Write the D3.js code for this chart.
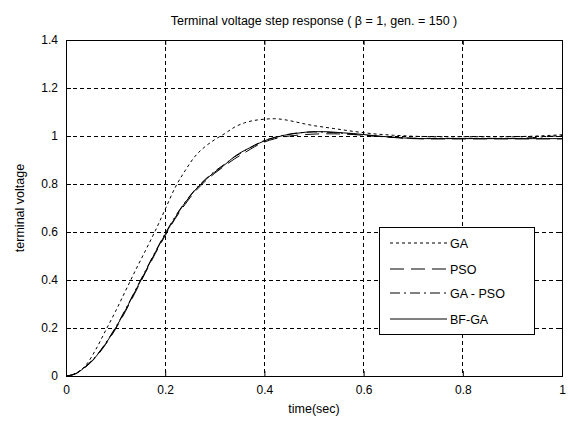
<!DOCTYPE html>
<html><head><meta charset="utf-8">
<script src="https://cdn.jsdelivr.net/npm/d3@7"></script>
<style>body{margin:0;background:#fff;} text{font-family:"Liberation Sans",Arial,sans-serif;}</style>
</head><body><svg id="c" width="570" height="424"></svg>
<script>
const time = [0,0.02,0.04,0.06,0.08,0.10,0.12,0.14,0.16,0.18,0.20,0.22,0.24,0.26,0.28,0.30,0.32,0.34,0.36,0.38,0.40,0.42,0.44,0.46,0.48,0.50,0.52,0.54,0.56,0.58,0.60,0.62,0.64,0.66,0.68,0.70,0.72,0.74,0.76,0.78,0.80,0.82,0.84,0.86,0.88,0.90,0.92,0.94,0.96,0.98,1.00];
const GA    = [0,0.012,0.045,0.11,0.19,0.27,0.355,0.44,0.522,0.605,0.695,0.785,0.855,0.915,0.955,0.985,1.01,1.037,1.055,1.065,1.07,1.072,1.068,1.06,1.051,1.043,1.037,1.031,1.025,1.019,1.014,1.009,1.006,1.003,1.001,0.999,0.998,0.997,0.997,0.997,0.997,0.997,0.997,0.997,0.997,0.997,0.998,0.999,1.001,1.003,1.005];
const PSO   = [0,0.01,0.038,0.078,0.132,0.196,0.27,0.35,0.43,0.51,0.585,0.655,0.715,0.768,0.81,0.845,0.876,0.905,0.93,0.955,0.975,0.988,0.997,1.002,1.006,1.008,1.009,1.009,1.008,1.006,1.003,1.0,0.997,0.994,0.991,0.989,0.988,0.988,0.988,0.988,0.988,0.988,0.988,0.988,0.988,0.988,0.988,0.988,0.988,0.988,0.988];
const GAPSO = [0,0.011,0.041,0.082,0.138,0.203,0.278,0.358,0.438,0.518,0.594,0.664,0.724,0.776,0.818,0.853,0.883,0.913,0.938,0.962,0.981,0.994,1.004,1.011,1.015,1.017,1.016,1.014,1.011,1.008,1.004,1.0,0.997,0.994,0.992,0.991,0.99,0.99,0.99,0.99,0.99,0.99,0.99,0.99,0.99,0.99,0.991,0.993,0.996,0.999,1.002];
const BFGA  = [0,0.01,0.04,0.08,0.135,0.20,0.275,0.355,0.435,0.515,0.59,0.66,0.722,0.774,0.815,0.85,0.88,0.915,0.94,0.96,0.98,0.993,1.003,1.01,1.015,1.018,1.018,1.016,1.013,1.01,1.006,1.002,0.998,0.995,0.992,0.99,0.989,0.989,0.989,0.989,0.989,0.989,0.989,0.989,0.989,0.989,0.989,0.989,0.989,0.989,0.989];
const seriesNames = ["GA","PSO","GA - PSO","BF-GA"];
const xTicks = [0,0.2,0.4,0.6,0.8,1];
const yTicks = [0,0.2,0.4,0.6,0.8,1,1.2,1.4];
const titleText = "Terminal voltage step response ( \u03B2 = 1, gen. = 150 )";

const svg = d3.select("#c");
const L=66,R=562,T=40,B=376;
const x = d3.scaleLinear().domain([0,1]).range([L,R]);
const y = d3.scaleLinear().domain([0,1.4]).range([B,T]);

// grid
const g = svg.append("g");
xTicks.slice(1,-1).forEach(v=>g.append("line").attr("x1",x(v)).attr("x2",x(v)).attr("y1",T).attr("y2",B)
  .attr("stroke","#000").attr("stroke-width",1).attr("stroke-dasharray","4,3").attr("shape-rendering","crispEdges"));
yTicks.slice(1,-1).forEach(v=>g.append("line").attr("x1",L).attr("x2",R).attr("y1",y(v)).attr("y2",y(v))
  .attr("stroke","#000").attr("stroke-width",1).attr("stroke-dasharray","4,3").attr("shape-rendering","crispEdges"));

// axes
const fmt = d=> d===0?"0":(d===1?"1":String(d));
svg.append("g").attr("transform",`translate(0,${B})`).call(d3.axisBottom(x).tickValues(xTicks).tickFormat(fmt).tickSizeInner(-5).tickSizeOuter(0).tickPadding(9));
svg.append("g").attr("transform",`translate(${L},0)`).call(d3.axisLeft(y).tickValues(yTicks).tickFormat(fmt).tickSizeInner(-5).tickSizeOuter(0).tickPadding(8));
svg.append("g").attr("transform",`translate(0,${T})`).call(d3.axisTop(x).tickValues(xTicks).tickFormat("").tickSizeInner(-5).tickSizeOuter(0));
svg.append("g").attr("transform",`translate(${R},0)`).call(d3.axisRight(y).tickValues(yTicks).tickFormat("").tickSizeInner(-5).tickSizeOuter(0));
svg.selectAll(".domain").remove();
svg.selectAll(".tick text").attr("font-size",12).attr("font-family","Liberation Sans, Arial, sans-serif").attr("fill","#000");
svg.append("rect").attr("x",L).attr("y",T).attr("width",R-L).attr("height",B-T).attr("fill","none").attr("stroke","#000").attr("stroke-width",1).attr("shape-rendering","crispEdges");

// lines
const dashes = ["3,3","14,7","10,4,2,4",null];
const data = [GA,PSO,GAPSO,BFGA];
const line = d3.line().x((d,i)=>x(time[i])).y(d=>y(d)).curve(d3.curveMonotoneX);
data.forEach((s,k)=>{
  svg.append("path").datum(s).attr("d",line).attr("fill","none").attr("stroke","#000")
    .attr("stroke-width",1).attr("stroke-dasharray",dashes[k]);
});

// labels
svg.append("text").attr("x",(L+R)/2).attr("y",25).attr("text-anchor","middle").attr("font-size",12.5).text(titleText);
svg.append("text").attr("x",(L+R)/2).attr("y",413).attr("text-anchor","middle").attr("font-size",12.5).text("time(sec)");
svg.append("text").attr("transform",`translate(24,${(T+B)/2}) rotate(-90)`).attr("text-anchor","middle").attr("font-size",12.5).text("terminal voltage");

// legend
const lg = svg.append("g");
lg.append("rect").attr("x",379).attr("y",227).attr("width",155).attr("height",107).attr("fill","#fff").attr("stroke","#000").attr("shape-rendering","crispEdges");
const ly = [243,269,293,319];
seriesNames.forEach((n,k)=>{
  lg.append("line").attr("x1",390).attr("x2",447).attr("y1",ly[k]).attr("y2",ly[k]).attr("stroke","#000").attr("stroke-width",1).attr("stroke-dasharray",dashes[k]);
  lg.append("text").attr("x",450).attr("y",ly[k]+4.5).attr("font-size",12.5).text(n);
});
</script></body></html>
